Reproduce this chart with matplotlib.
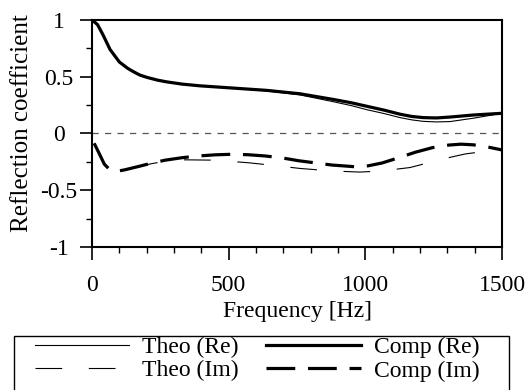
import matplotlib
matplotlib.use("Agg")
import matplotlib.pyplot as plt
from matplotlib.patches import Rectangle
from matplotlib.ticker import MultipleLocator

plt.rcParams['font.family'] = ['Liberation Serif', 'DejaVu Serif']
plt.rcParams['font.size'] = 17

# Frequency samples [Hz] for the real parts
freq = [0, 20, 40, 66, 100, 130, 151, 175, 200, 240, 273, 330, 395, 517, 639, 761,
        883, 950, 1005, 1070, 1127, 1170, 1212, 1260, 1310, 1396, 1500]

# Real parts
comp_re = [1.00, 0.96, 0.87, 0.74, 0.63, 0.575, 0.545, 0.515, 0.495, 0.47, 0.455, 0.435,
           0.42, 0.40, 0.38, 0.35, 0.30, 0.27, 0.24, 0.205, 0.17, 0.15, 0.14, 0.137,
           0.145, 0.163, 0.178]
theo_re = [1.00, 0.96, 0.87, 0.745, 0.635, 0.58, 0.55, 0.52, 0.50, 0.473, 0.457, 0.436,
           0.42, 0.40, 0.375, 0.34, 0.28, 0.245, 0.21, 0.175, 0.14, 0.12, 0.107, 0.102,
           0.105, 0.135, 0.178]

# Frequency samples [Hz] for the imaginary parts
freq_ci = [8, 25, 45, 65, 85, 120, 171, 220, 268, 330, 390, 450, 512, 570, 634, 700, 756,
           820, 878, 963, 1010, 1061, 1120, 1183, 1245, 1305, 1350, 1396, 1450, 1500]
comp_im = [-0.087, -0.17, -0.27, -0.32, -0.336, -0.32, -0.29, -0.26, -0.235, -0.213, -0.198,
           -0.188, -0.183, -0.187, -0.198, -0.217, -0.24, -0.26, -0.278, -0.293, -0.285,
           -0.26, -0.215, -0.165, -0.125, -0.102, -0.094, -0.1, -0.12, -0.145]

freq_ti = [8, 25, 45, 65, 85, 120, 171, 220, 268, 341, 450, 573, 660, 761, 878, 980,
           1060, 1163, 1244, 1310, 1366, 1420, 1500]
theo_im = [-0.087, -0.17, -0.27, -0.32, -0.336, -0.32, -0.29, -0.265, -0.245, -0.232,
           -0.235, -0.258, -0.28, -0.308, -0.33, -0.34, -0.33, -0.30, -0.25, -0.21,
           -0.18, -0.163, -0.17]

x_ticks = [0, 500, 1000, 1500]
x_labels = ['0', '500', '1000', '1500']
y_ticks = [-1, -0.5, 0, 0.5, 1]
y_labels = ['-1', '-0.5', '0', '0.5', '1']

fig = plt.figure(figsize=(5.31, 3.90), dpi=100)
ax = fig.add_axes([0.1733, 0.3667, 0.7721, 0.582])

ax.axhline(0, color='#555555', lw=0.9, ls=(0, (5, 5)))
l1, = ax.plot(freq, theo_re, color='black', lw=0.8, label='Theo (Re)')
l2, = ax.plot(freq, comp_re, color='black', lw=2.3, label='Comp (Re)')
l3, = ax.plot(freq_ti, theo_im, color='black', lw=0.8, ls=(0, (24, 24)), label='Theo (Im)')
l4, = ax.plot(freq_ci, comp_im, color='black', lw=2.3, ls=(0, (9, 4)), label='Comp (Im)')

ax.set_xlim(0, 1500)
ax.set_ylim(-1, 1)
ax.set_xticks(x_ticks)
ax.set_xticklabels(x_labels)
ax.xaxis.set_minor_locator(MultipleLocator(100))
ax.set_yticks(y_ticks)
ax.set_yticklabels(y_labels, ha='center')
ax.yaxis.set_minor_locator(MultipleLocator(0.25))
ax.tick_params(which='major', length=9, width=1.2, direction='out')
ax.tick_params(axis='x', which='major', pad=11)
ax.tick_params(axis='y', which='major', pad=15)
ax.tick_params(which='minor', length=4.5, width=1.0, direction='out')
for s in ax.spines.values():
    s.set_linewidth(1.5)

ax.set_xlabel('Frequency [Hz]', labelpad=4)
ax.set_ylabel('Reflection coefficient', fontsize=18)
ax.yaxis.set_label_coords(-0.145, 0.546)

# Legend frame running off the bottom edge
fig.patches.append(Rectangle((14 / 531, -0.05), 495 / 531, 0.05 + 54 / 390,
                             transform=fig.transFigure, fill=False,
                             edgecolor='black', lw=1.0))
fig.legend(handles=[l1, l3, l2, l4],
           labels=['Theo (Re)', 'Theo (Im)', 'Comp (Re)', 'Comp (Im)'],
           ncol=2, loc='upper left', bbox_to_anchor=(0.066, 0.137), frameon=False,
           handlelength=4.0, handletextpad=0.55, columnspacing=1.15,
           labelspacing=0.08, borderpad=0, borderaxespad=0)

fig.savefig('out.png', dpi=100)
